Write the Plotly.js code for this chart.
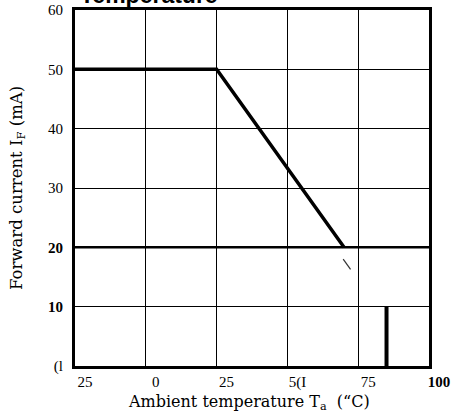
<!DOCTYPE html>
<html>
<head>
<meta charset="utf-8">
<script src="https://cdn.plot.ly/plotly-3.0.1.min.js"></script>
<style>html,body{margin:0;padding:0;background:#fff;}#chart{width:457px;height:417px;}</style>
</head>
<body>
<div id="chart"></div>
<script>
// Derating curve: forward current vs ambient temperature
const curveTemp = [-25, 25, 70];
const curveCurrent = [50, 50, 20];
// small scan fragment below the curve end
const fragTemp = [69.7, 72.3];
const fragCurrent = [18.0, 16.3];
// vertical marker bar at 85 °C
const barTemp = [85, 85];
const barCurrent = [0, 10];

const xTickVals = [-25, 0, 25, 50, 75, 100];
const xTickText = ['25', '0', '25', '5(I', '75', '<b>100</b>'];
const yTickVals = [0, 10, 20, 30, 40, 50, 60];
const yTickText = ['(l', '<b>10</b>', '<b>20</b>', '30', '40', '50', '60'];

const serif = 'Liberation Serif, DejaVu Serif, serif';
const titleSerif = 'DejaVu Serif, serif';

const traces = [
  {x: curveTemp, y: curveCurrent, mode: 'lines', line: {color: '#000', width: 3.5}, hoverinfo: 'skip'},
  {x: fragTemp, y: fragCurrent, mode: 'lines', line: {color: '#333', width: 1.2}, hoverinfo: 'skip'},
  {x: barTemp, y: barCurrent, mode: 'lines', line: {color: '#000', width: 4}, hoverinfo: 'skip'}
];

const layout = {
  width: 457, height: 417,
  margin: {l: 75, r: 28, t: 10, b: 51},
  paper_bgcolor: '#fff', plot_bgcolor: '#fff',
  showlegend: false,
  font: {family: serif, color: '#000', size: 15},
  xaxis: {
    range: [-25, 100], tickmode: 'array', tickvals: xTickVals, ticktext: xTickText,
    showgrid: true, gridcolor: '#000', gridwidth: 1,
    showline: true, linecolor: '#000', linewidth: 3, mirror: true,
    zeroline: false, ticks: '', ticklabelshift: 10, ticklabelstandoff: 0,
    tickfont: {family: serif, size: 15, color: '#000'}
  },
  yaxis: {
    range: [0, 60], tickmode: 'array', tickvals: yTickVals, ticktext: yTickText,
    showgrid: true, gridcolor: '#000', gridwidth: 1,
    showline: true, linecolor: '#000', linewidth: 3, mirror: true,
    zeroline: false, ticks: '', ticklabelstandoff: 6,
    tickfont: {family: serif, size: 15, color: '#000'}
  },
  shapes: [
    {type: 'line', xref: 'paper', x0: 0, x1: 1, yref: 'y', y0: 20, y1: 20, line: {color: '#000', width: 2.5}}
  ],
  annotations: [
    {text: '<b>Temperature</b>', xref: 'paper', yref: 'paper', x: 0.008, y: 1.0, xanchor: 'left', yanchor: 'bottom', yshift: 0,
     showarrow: false, font: {family: 'Liberation Sans, Arial, sans-serif', size: 23, color: '#000'}},
    {text: 'Ambient temperature T<sub>a</sub>  (“C)', xref: 'paper', yref: 'paper', x: 0.4915, y: 0, xanchor: 'center', yanchor: 'middle', yshift: -36,
     showarrow: false, font: {family: titleSerif, size: 16, color: '#000'}},
    {text: 'Forward current I<sub>F</sub> (mA)', xref: 'paper', yref: 'paper', x: -0.1638, y: 0.50, xanchor: 'center', yanchor: 'middle', textangle: -90,
     showarrow: false, font: {family: titleSerif, size: 16.5, color: '#000'}}
  ]
};

Plotly.newPlot('chart', traces, layout, {displayModeBar: false, staticPlot: true});
</script>
</body>
</html>
